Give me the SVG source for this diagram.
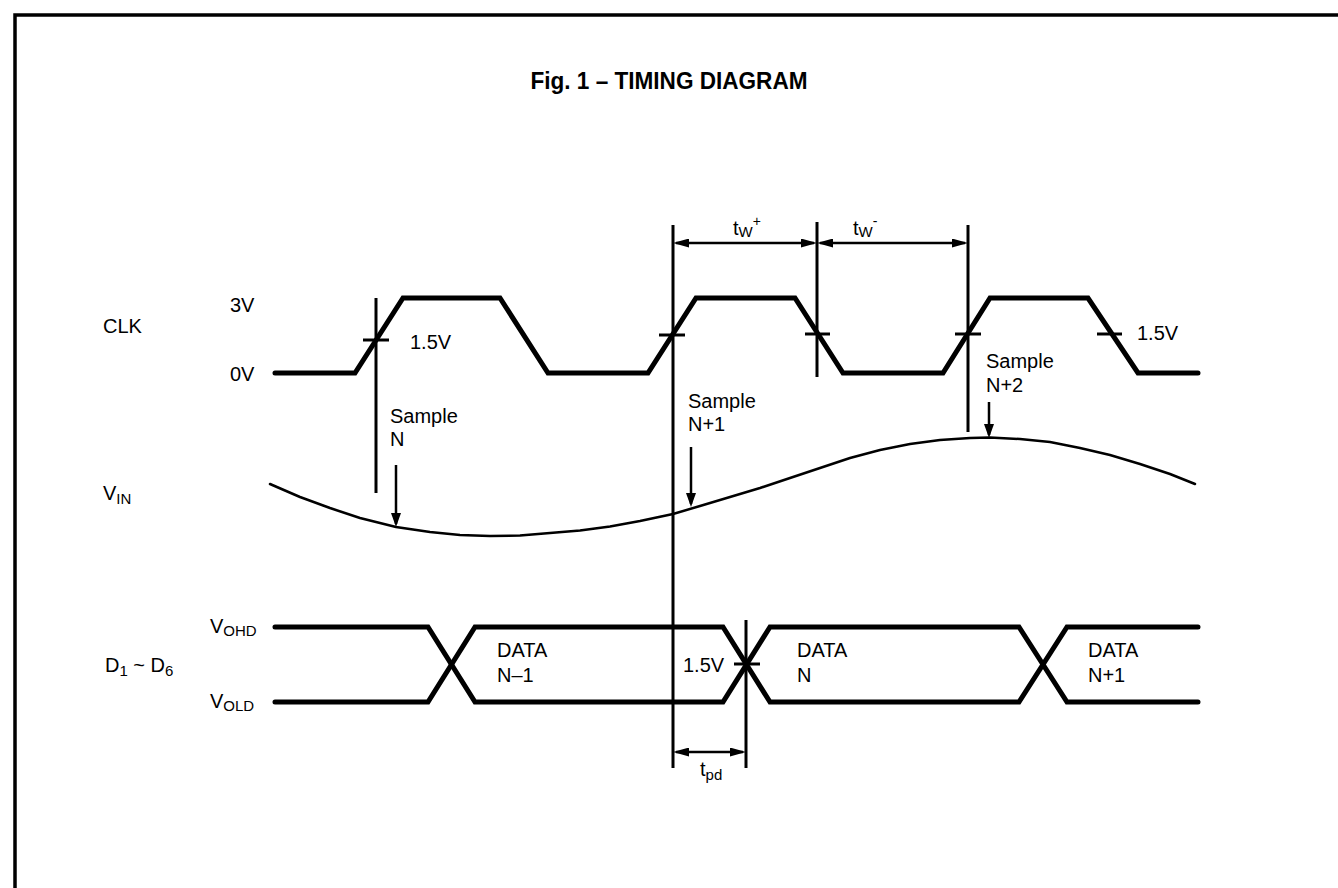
<svg xmlns="http://www.w3.org/2000/svg" width="1338" height="888" viewBox="0 0 1338 888">
<style>
  text { font-family: "Liberation Sans", Arial, sans-serif; font-size: 20px; fill: #000; }
  .title { font-weight: bold; font-size: 24px; }
  .sig { fill: none; stroke: #000; stroke-width: 5; stroke-linejoin: miter; stroke-linecap: round; }
  .ref { fill: none; stroke: #000; stroke-width: 3; }
  .tick { fill: none; stroke: #000; stroke-width: 3; }
  .curve { fill: none; stroke: #000; stroke-width: 2.5; stroke-linejoin: round; stroke-linecap: round; }
  .dim { fill: none; stroke: #000; stroke-width: 2.5; }
  .sub { font-size: 15px; }
</style>
<defs>
  <marker id="ah" viewBox="0 0 16 9" refX="13" refY="4.5" markerWidth="16" markerHeight="9" markerUnits="userSpaceOnUse" orient="auto-start-reverse">
    <path d="M0,0 L16,4.5 L0,9 Z" fill="#000"/>
  </marker>
  <marker id="ahd" viewBox="0 0 14 10" refX="11" refY="5" markerWidth="14" markerHeight="10" markerUnits="userSpaceOnUse" orient="auto">
    <path d="M0,0 L14,5 L0,10 Z" fill="#000"/>
  </marker>
</defs>
<rect width="1338" height="888" fill="#fff"/>
<g id="frame">
  <path d="M15,888 L15,15 L1338,15" fill="none" stroke="#000" stroke-width="3.5"/>
</g>
<g id="title">
  <text class="title" x="669" y="89" text-anchor="middle" textLength="277" lengthAdjust="spacingAndGlyphs">Fig. 1 – TIMING DIAGRAM</text>
</g>
<g id="clk">
  <text x="103" y="333">CLK</text>
  <text x="230" y="312">3V</text>
  <text x="230" y="381">0V</text>
  <path class="sig" d="M275,373 L355,373 L403,298 L500,298 L548,373 L648,373 L696,298 L795,298 L843,373 L943,373 L990,298 L1088,298 L1138,373 L1198,373"/>
  <line class="tick" x1="363" y1="340" x2="389" y2="340"/>
  <line class="tick" x1="659" y1="335" x2="685" y2="335"/>
  <line class="tick" x1="805" y1="334" x2="830" y2="334"/>
  <line class="tick" x1="955" y1="334" x2="981" y2="334"/>
  <line class="tick" x1="1097" y1="334" x2="1122" y2="334"/>
  <text x="410" y="349">1.5V</text>
  <text x="1137" y="340">1.5V</text>
</g>
<g id="vin">
  <text x="103" y="500">V<tspan class="sub" dy="4">IN</tspan></text>
  <polyline class="curve" points="270,484 300,497 330,508 360,518 396,527 430,532 460,535 490,536 520,535.5 550,533 580,530.5 610,526.5 640,521 673,514 700,506 730,497 760,488 790,478 820,468 850,458 880,450 910,444 940,440 970,438 990,437.5 1020,439 1050,442 1080,448 1110,455 1140,464 1170,474 1195,484"/>
</g>
<g id="data">
  <text x="105" y="672">D<tspan class="sub" dy="4">1</tspan><tspan dy="-4"> ~ D</tspan><tspan class="sub" dy="4">6</tspan></text>
  <text x="210" y="633">V<tspan class="sub" dy="3">OHD</tspan></text>
  <text x="210" y="708">V<tspan class="sub" dy="3">OLD</tspan></text>
  <path class="sig" d="M275,627 L428,627 L475,702 L723,702 L770,627 L1019,627 L1067,702 L1198,702"/>
  <path class="sig" d="M275,702 L428,702 L475,627 L723,627 L770,702 L1019,702 L1067,627 L1198,627"/>
  <line class="tick" x1="734" y1="664" x2="760" y2="664"/>
  <text x="683" y="672">1.5V</text>
  <text x="497" y="657">DATA</text>
  <text x="497" y="682">N–1</text>
  <text x="797" y="657">DATA</text>
  <text x="797" y="682">N</text>
  <text x="1088" y="657">DATA</text>
  <text x="1088" y="682">N+1</text>
</g>
<g id="connectors">
  <line class="ref" x1="376" y1="298" x2="376" y2="493"/>
  <line class="ref" x1="673" y1="225" x2="673" y2="768"/>
  <line class="ref" x1="817" y1="222" x2="817" y2="377"/>
  <line class="ref" x1="968" y1="225" x2="968" y2="432"/>
  <line class="ref" x1="746" y1="620" x2="746" y2="768"/>
  <line class="dim" x1="676" y1="243" x2="814" y2="243" marker-start="url(#ah)" marker-end="url(#ah)"/>
  <line class="dim" x1="820" y1="243" x2="965" y2="243" marker-start="url(#ah)" marker-end="url(#ah)"/>
  <line class="dim" x1="676" y1="752" x2="743" y2="752" marker-start="url(#ah)" marker-end="url(#ah)"/>
  <line class="dim" x1="396" y1="465" x2="396" y2="524" marker-end="url(#ahd)"/>
  <line class="dim" x1="691" y1="447" x2="691" y2="504" marker-end="url(#ahd)"/>
  <line class="dim" x1="989" y1="402" x2="989" y2="435" marker-end="url(#ahd)"/>
</g>
<g id="labels">
  <text x="733" y="235">t<tspan class="sub" dy="2">W</tspan><tspan font-size="14" dy="-11">+</tspan></text>
  <text x="853" y="235">t<tspan class="sub" dy="2">W</tspan><tspan font-size="14" dy="-11">-</tspan></text>
  <text x="700" y="776">t<tspan class="sub" dy="4">pd</tspan></text>
  <text x="390" y="423">Sample</text>
  <text x="390" y="446">N</text>
  <text x="688" y="408">Sample</text>
  <text x="688" y="431">N+1</text>
  <text x="986" y="368">Sample</text>
  <text x="986" y="392">N+2</text>
</g>
</svg>
